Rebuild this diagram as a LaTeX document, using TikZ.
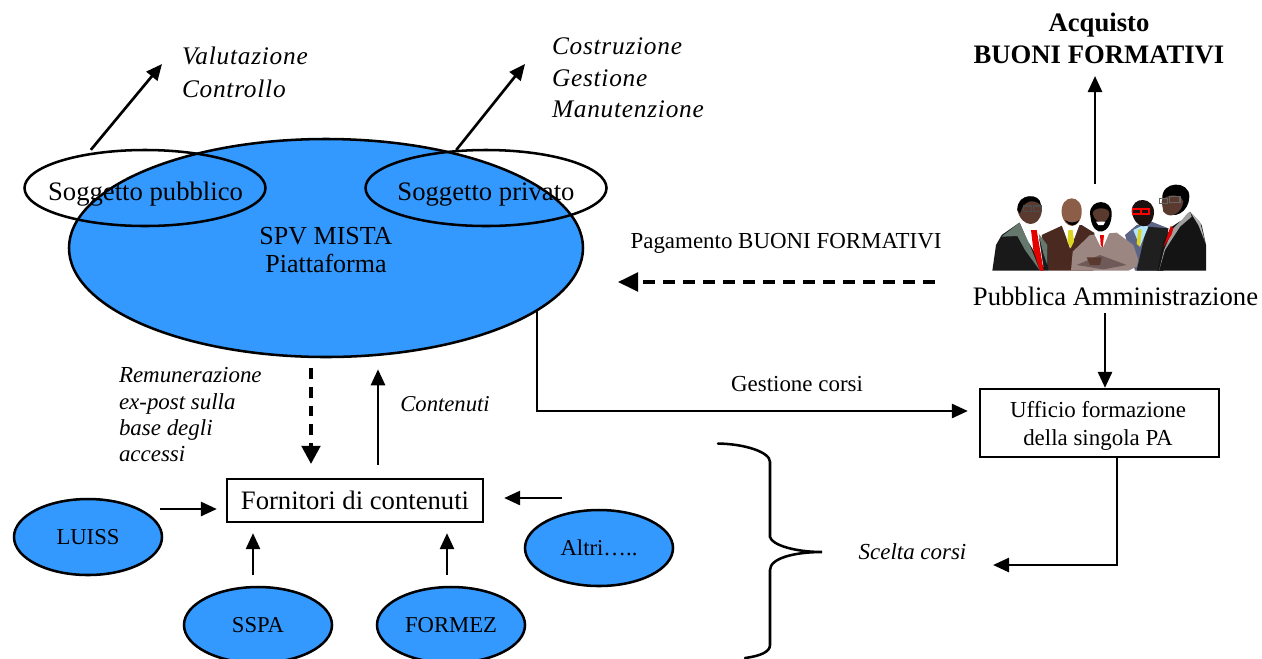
\documentclass[tikz,border=0pt]{standalone}
\usepackage{fontspec}
\setmainfont{Liberation Serif}
\newfontfamily\spacedit[LetterSpace=3,ItalicFont={Liberation Serif Italic}]{Liberation Serif}
\usetikzlibrary{shapes.geometric,arrows.meta}
\definecolor{spvblue}{HTML}{3399FF}
\definecolor{suitgreen}{HTML}{66786E}
\definecolor{suitbrown}{HTML}{4A2A20}
\definecolor{suitblue}{HTML}{5C6488}
\definecolor{suittaupe}{HTML}{9C8682}
\definecolor{suitshade}{HTML}{6E5A58}
\definecolor{skin}{HTML}{5A3A2E}
\definecolor{skinlight}{HTML}{8C5E48}
\newdimen\pp \pp=0.75pt
\newcommand{\sz}[1]{\fontsize{#1}{#1}\selectfont}
\tikzset{
  blob/.style={ellipse,draw=black,line width=1.9pt,inner sep=0,minimum width=148\pp,minimum height=76\pp,fill=spvblue,font=\sz{17}},
  member/.style={ellipse,draw=black,line width=1.9pt,inner sep=0,minimum width=241\pp,minimum height=76\pp,font=\sz{20}},
  boxnode/.style={rectangle,draw=black,line width=1.7pt,inner sep=0,fill=white},
  lbl/.style={inner sep=0,outer sep=0},
  arr/.style={line width=2pt,-{Triangle[length=12pt,width=10.5pt]}},
  darr/.style={line width=2.3pt,dash pattern=on 8pt off 6pt,-{Triangle[length=13.5pt,width=14pt]}},
  dbig/.style={line width=2.4pt,dash pattern=on 9pt off 6pt,-{Triangle[length=15pt,width=14pt]}},
}
\begin{document}
\begin{tikzpicture}[x=0.75pt,y=-0.75pt]
\useasboundingbox (0,0) rectangle (1262,658);
% main ellipses
\node[ellipse,draw=black,line width=1.9pt,fill=spvblue,inner sep=0,minimum width=514\pp,minimum height=218\pp] (spv) at (326,248) {};
\node[member] (pub) at (145,188) {};
\node[member] (priv) at (486,188) {};
\node[lbl,font=\sz{20}] (pubt) at (145.5,194.5) {Soggetto pubblico};
\node[lbl,font=\sz{20}] (privt) at (486,194.5) {Soggetto privato};
\node[lbl,font={\fontsize{19.5}{21.5}\selectfont},align=center] (spvt) at (326,250) {SPV MISTA\\Piattaforma};
% italic labels
\node[lbl,anchor=west,align=left,font={\fontsize{19}{24.5}\selectfont\spacedit\itshape}] (val) at (182,72) {Valutazione\\Controllo};
\node[lbl,anchor=west,align=left,font={\fontsize{19}{23.7}\selectfont\spacedit\itshape}] (cos) at (552,78) {Costruzione\\Gestione\\Manutenzione};
\node[lbl,align=center,font={\fontsize{20}{24}\selectfont\bfseries}] (acq) at (1099,38) {Acquisto\\BUONI FORMATIVI};
\node[lbl,font=\sz{17.2}] (pag) at (786,243) {Pagamento BUONI FORMATIVI};
\node[lbl,font=\sz{20}] (pa) at (1115.5,296) {Pubblica Amministrazione};
\node[lbl,font=\sz{17.2}] (ges) at (797,384) {Gestione corsi};
\node[boxnode,minimum width=239\pp,minimum height=68\pp] (uff) at (1099.5,423) {};
\node[lbl,align=center,font={\fontsize{17.2}{21}\selectfont}] (ufft) at (1098,426) {Ufficio formazione\\della singola PA};
\node[lbl,anchor=north west,align=left,font={\fontsize{17.2}{19.8}\selectfont\itshape}] (rem) at (119,367.5) {Remunerazione\\ex-post sulla\\base degli\\accessi};
\node[lbl,font={\sz{17}\itshape}] (con) at (445,404) {Contenuti};
\node[boxnode,minimum width=256\pp,minimum height=43\pp,font=\sz{20}] (forn) at (355,500.5) {Fornitori di contenuti};
\node[blob] (luiss) at (88,537) {LUISS};
\node[blob] (altri) at (599,548) {Altri…..};
\node[blob] (sspa) at (258,625) {SSPA};
\node[blob] (formez) at (451,625) {FORMEZ};
\node[lbl,font={\sz{17.2}\itshape}] (scelta) at (912.5,552) {Scelta corsi};
% free ends
\coordinate (valend) at (162,64);
\coordinate (cosend) at (525,64);
\coordinate (acqend) at (1095,76);
\coordinate (paup) at (1095,184);
\coordinate (padash) at (935,282);
\coordinate (spvdash) at (618,282);
\coordinate (pa-out) at (1105,313);
\coordinate (spv-out) at (537,311);
\coordinate (spv-corner) at (537,411);
\coordinate (uff-corner) at (1117,565);
\coordinate (scend) at (993,565);
% connectors
\draw[arr] ([yshift=3\pp]pub.147) -- (valend);
\draw[arr] (priv.128) -- (cosend);
\draw[arr] (paup) -- (acqend);
\draw[dbig] (padash) -- (spvdash);
\draw[darr] ([xshift=-15\pp,yshift=-10\pp]spv.south) -- ([xshift=-44\pp,yshift=14\pp]forn.north);
\draw[arr] ([xshift=23\pp,yshift=13\pp]forn.north) -- ([xshift=52\pp,yshift=-11\pp]spv.south);
\draw[arr] (spv-out) -- (spv-corner) -- ([xshift=-11\pp,yshift=12\pp]uff.west);
\draw[arr] (pa-out) -- ([xshift=5.5\pp]uff.north);
\draw[arr] ([xshift=17.5\pp]uff.south) -- (uff-corner) -- (scend);
\draw[arr] ([xshift=-66\pp,yshift=-8.5\pp]forn.west) -- ([xshift=-9\pp,yshift=-8.5\pp]forn.west);
\draw[arr] ([xshift=78\pp,yshift=2.5\pp]forn.east) -- ([xshift=20\pp,yshift=2.5\pp]forn.east);
\draw[arr] ([xshift=-5\pp,yshift=11\pp]sspa.north) -- ([xshift=-5\pp,yshift=-10\pp]sspa.north |- forn.south);
\draw[arr] ([xshift=-4\pp,yshift=11\pp]formez.north) -- ([xshift=-4\pp,yshift=-10\pp]formez.north |- forn.south);
% brace
\coordinate (brtip) at (822,552);
\draw[line width=1.9pt,line cap=round] (718,443.5) .. controls (745,444) and (770,452) .. (770,462) -- (770,537) .. controls (772,545) and (795,552) .. (brtip) .. controls (795,552) and (770,558) .. (770,570) -- (770,645) .. controls (770,652) and (760,656) .. (745,658);
% clip-art group of people
\begin{scope}[shift={(960,170)},x=0.25pt,y=-0.25pt]
 % person 2
 \fill[suitbrown] (245,195) -- (310,165) -- (365,165) -- (405,190) -- (400,302) -- (265,302) -- cycle;
 \fill[white] (305,165) -- (358,165) -- (345,200) -- (330,235) -- (318,200) -- cycle;
 \fill[yellow!85!black] (325,180) -- (338,180) -- (342,215) -- (332,235) -- (322,215) -- cycle;
 \fill[skinlight] (305,130) .. controls (300,70) and (370,70) .. (365,130) .. controls (360,180) and (312,180) .. (305,130) -- cycle;
 \fill[black] (315,150) .. controls (330,172) and (345,172) .. (358,150) .. controls (345,160) and (328,160) .. (315,150) -- cycle;
 % person 4
 \fill[suitblue] (495,195) -- (530,165) -- (575,155) -- (625,175) -- (610,302) -- (525,302) -- cycle;
 \fill[black!88] (560,170) -- (625,175) -- (610,302) -- (530,302) -- cycle;
 \fill[white!70!cyan] (520,180) -- (550,165) -- (565,170) -- (540,230) -- cycle;
 \fill[yellow!85!black] (535,178) -- (545,178) -- (540,230) -- (530,222) -- cycle;
 \fill[black!70!skin] (515,125) .. controls (515,75) and (585,80) .. (582,130) .. controls (575,185) and (525,180) .. (515,125) -- cycle;
 \draw[red,line width=1.2pt] (518,117) rectangle (542,132) (545,117) rectangle (567,132);
 % person 1
 \fill[black!90] (97,302) -- (108,225) -- (125,195) -- (178,158) -- (220,190) -- (262,225) -- (265,302) -- cycle;
 \fill[suitgreen] (178,158) -- (125,200) -- (172,198) -- (195,240) -- (240,302) -- (205,215) -- cycle;
 \fill[suitgreen] (235,190) -- (262,225) -- (262,285) -- (250,250) -- cycle;
 \fill[white] (178,155) -- (225,172) -- (235,190) -- (250,290) -- (205,215) -- cycle;
 \fill[red!90!black] (213,180) -- (230,180) -- (251,302) -- (240,302) -- (220,240) -- cycle;
 \fill[skin] (172,120) .. controls (172,60) and (250,70) .. (245,125) .. controls (238,175) and (185,175) .. (172,120) -- cycle;
 \fill[black] (172,120) .. controls (172,70) and (240,65) .. (243,105) .. controls (220,85) and (190,90) .. (180,130) -- cycle;
 \draw[black!70,line width=.8pt] (190,108) rectangle (214,125) (220,108) rectangle (245,125);
 % person 5
 \fill[black!92] (592,302) -- (610,215) -- (640,160) -- (690,125) -- (725,165) -- (738,225) -- (738,302) -- cycle;
 \fill[gray!75] (690,125) -- (640,175) -- (612,240) -- (597,302) -- (615,240) -- (660,170) -- (695,140) -- cycle;
 \fill[gray!60] (690,125) -- (720,155) -- (735,215) -- (715,165) -- cycle;
 \fill[white] (690,122) -- (640,155) -- (635,170) -- (665,150) -- cycle;
 \fill[red!90!black] (632,168) -- (610,232) -- (634,195) -- (640,175) -- cycle;
 \fill[black] (607,90) .. controls (600,30) and (690,30) .. (688,80) .. controls (688,125) and (640,155) .. (610,120) -- cycle;
 \fill[skin] (605,95) .. controls (615,70) and (665,70) .. (670,95) .. controls (665,130) and (630,150) .. (610,125) -- cycle;
 \draw[black!60,line width=.8pt] (598,85) rectangle (622,100) (628,80) rectangle (660,97);
 % person 3, centre
 \fill[suittaupe] (333,302) -- (338,245) -- (390,195) -- (470,188) -- (520,225) -- (535,270) -- (530,290) -- (505,302) -- cycle;
 \fill[suitshade] (350,285) -- (420,255) -- (500,285) -- (430,298) -- cycle;
 \fill[white] (402,190) -- (430,190) -- (450,183) -- (430,230) -- (422,230) -- cycle;
 \fill[red!90!black] (420,195) -- (432,195) -- (428,232) -- (422,225) -- cycle;
 \fill[skin] (380,262) -- (425,262) -- (420,285) -- (390,285) -- cycle;
 \fill[black] (390,130) .. controls (390,85) and (455,85) .. (455,130) .. controls (455,195) and (400,205) .. (392,145) -- cycle;
 \fill[skin] (398,130) .. controls (400,110) and (448,110) .. (448,130) .. controls (445,165) and (405,165) .. (398,130) -- cycle;
 \fill[white] (408,155) -- (436,155) -- (430,165) -- (415,165) -- cycle;
\end{scope}
\end{tikzpicture}
\end{document}
